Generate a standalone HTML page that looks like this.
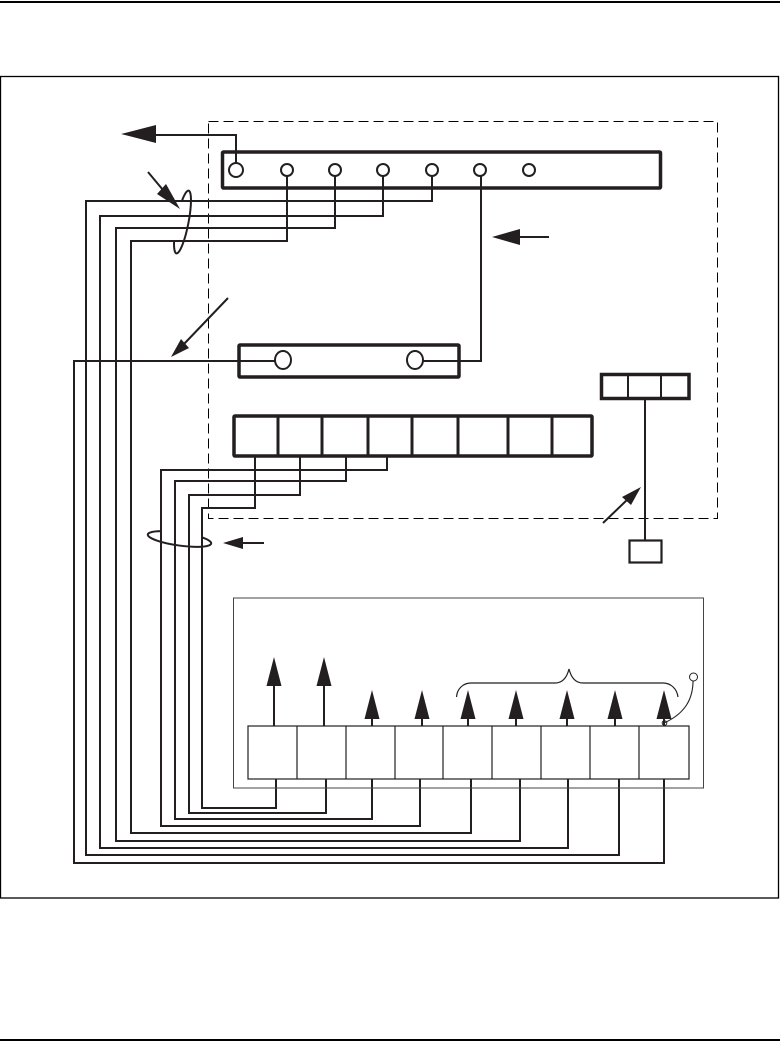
<!DOCTYPE html>
<html><head><meta charset="utf-8"><style>
html,body{margin:0;padding:0;background:#fff;width:780px;height:1042px;overflow:hidden}
svg{display:block}
</style></head><body>
<svg width="780" height="1042" viewBox="0 0 780 1042" xmlns="http://www.w3.org/2000/svg">
<defs>
<clipPath id="c1"><path d="M160 185H205V262H160V241H178L185 201H160Z"/></clipPath>
<clipPath id="c2"><path d="M140 525H161V537.500L202 542V525H220V555H140Z"/></clipPath>
</defs>
<rect width="780" height="1042" fill="#fff"/>
<rect x="0" y="1" width="780" height="2" fill="#000"/>
<rect x="0" y="1039" width="780" height="2" fill="#000"/>
<g fill="none" stroke="#231f20">
<!-- frame -->
<rect x="0.5" y="76.5" width="778" height="821.5" stroke="#000" stroke-width="1.300"/>
<!-- dashed -->
<rect x="208.5" y="121.5" width="509" height="397" stroke="#000" stroke-width="1" stroke-dasharray="10 5"/>
<!-- wires -->
<g stroke-width="2">
<path d="M432 176V201H86V855H619V779"/>
<path d="M383 176V216H100V848H568V779"/>
<path d="M335 176V228H116V841H520V779"/>
<path d="M287 176V241H131V833H471V779"/>
<path d="M387 456V470H161V826H420V779"/>
<path d="M346 456V481H175V819H372V779"/>
<path d="M300 456V495H189V813H326V779"/>
<path d="M255 456V508H202V808H276V779"/>
<path d="M275 361H74V863H664V779"/>
<path d="M423 361H481V176"/>
<path d="M236 163V135H156"/>
<path d="M645 399V540"/>
<path d="M549 237H518M264 543H241M228 298L184 344M148 172L163 190M603 523L628 499"/>
<path d="M274 726V684M324 726V684M372 726V717M422 726V717M468 726V717M516 726V717M567 726V717M615 726V717M664 726V717"/>
</g>
<!-- bars -->
<rect x="222.5" y="152" width="438" height="36" rx="1" stroke-width="3.500"/>
<rect x="239" y="345" width="220" height="32" rx="1" stroke-width="3.500"/>
<rect x="234" y="416" width="358" height="40" rx="1" stroke-width="3.500"/>
<path d="M278 416V456M322 416V456M368 416V456M412 416V456M458 416V456M508 416V456M552 416V456" stroke-width="3"/>
<rect x="601.500" y="374.500" width="87.500" height="24" stroke-width="3.500"/>
<path d="M628 374V398M661 374V398" stroke-width="2"/>
<rect x="629.500" y="540.500" width="32" height="22" stroke-width="2.200"/>
<!-- circles -->
<g fill="#fff" stroke-width="2">
<circle cx="236" cy="170" r="7"/>
<circle cx="287" cy="170" r="6"/>
<circle cx="335" cy="170" r="6"/>
<circle cx="383" cy="170" r="6"/>
<circle cx="432" cy="170" r="6"/>
<circle cx="480" cy="170" r="6"/>
<circle cx="529" cy="170" r="6"/>
<ellipse cx="283" cy="360" rx="8" ry="9"/>
<ellipse cx="415" cy="360" rx="8" ry="9"/>
</g>
<!-- cable loops -->
<g clip-path="url(#c1)"><ellipse cx="182.500" cy="222" rx="6" ry="32" transform="rotate(11 182.500 222)" stroke-width="2"/></g>
<g clip-path="url(#c2)"><ellipse cx="179.500" cy="539" rx="32" ry="6.500" transform="rotate(8 179.500 539)" stroke-width="2"/></g>
<!-- lower box -->
<rect x="233.500" y="598" width="470" height="190" stroke="#444" stroke-width="1"/>
<rect x="248" y="726" width="441" height="53" stroke-width="1.200"/>
<path d="M297 726V779M346 726V779M395 726V779M443 726V779M492 726V779M541 726V779M590 726V779M639 726V779" stroke-width="1.200"/>
<!-- brace -->
<path d="M456.500 697C457 689 463 683 471 683H555C563 683 567 677 569 669C571 677 575 683 583 683H663C671 683 677 689 678 697" stroke-width="1.200"/>
<path d="M693 677C694 700 684 714 664 723" stroke-width="1.100"/>
<circle cx="693.500" cy="677" r="4" fill="#fff" stroke-width="1"/>
<circle cx="664.500" cy="723" r="2.300" stroke-width="1"/>
</g>
<!-- arrowheads -->
<g fill="#231f20">
<path d="M121 134L156 125V143Z"/>
<path d="M492 237L520 229V245Z"/>
<path d="M223 543L243 537V549Z"/>
<path d="M180 209L157 194L166 184Z"/>
<path d="M171 357L181 339L189 348Z"/>
<path d="M641 487L622 497L631 505Z"/>
<path d="M274 657L266.500 686H281.500Z"/>
<path d="M324 657L316.500 686H331.500Z"/>
<path d="M372 690L364.500 719H379.500Z"/>
<path d="M422 690L414.500 719H429.500Z"/>
<path d="M468 690L460.500 719H475.500Z"/>
<path d="M516 690L508.500 719H523.500Z"/>
<path d="M567 690L559.500 719H574.500Z"/>
<path d="M615 690L607.500 719H622.500Z"/>
<path d="M664 690L656.500 719H671.500Z"/>
</g>
</svg>
</body></html>
